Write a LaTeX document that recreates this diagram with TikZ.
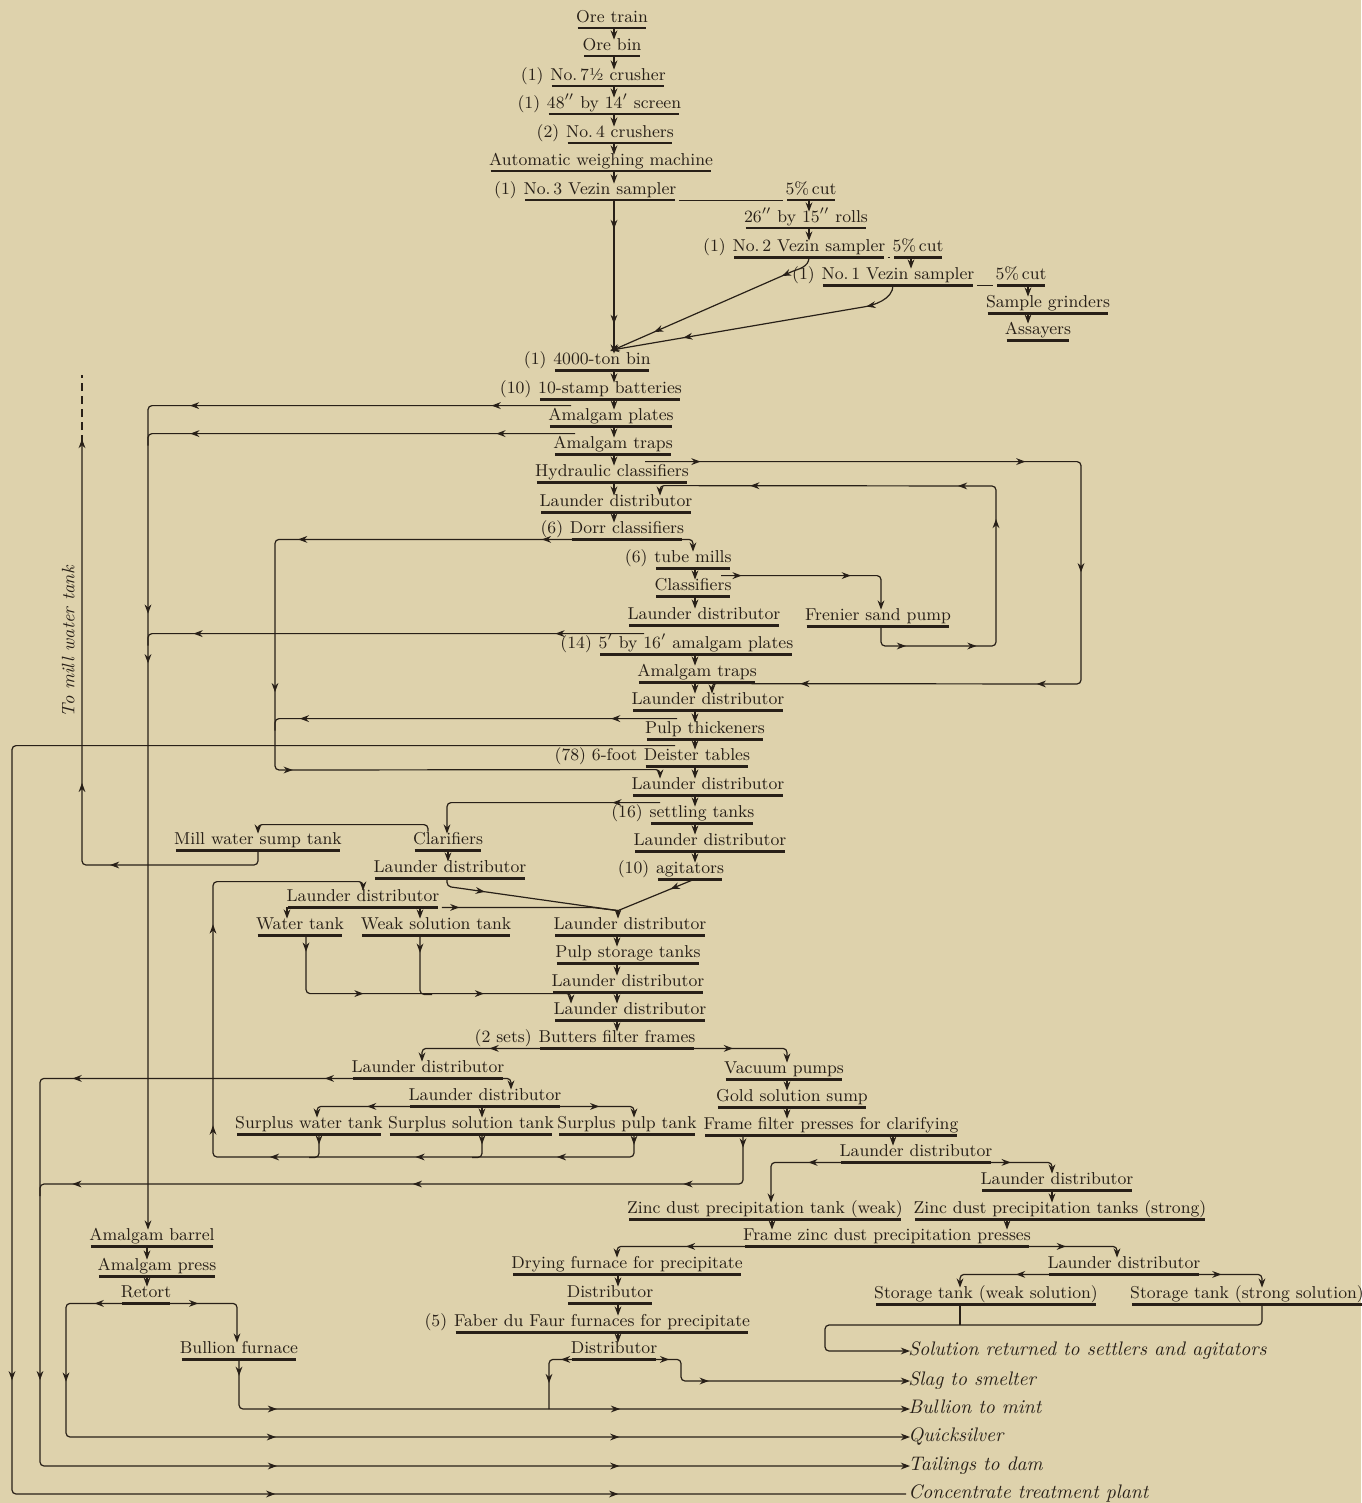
\documentclass[tikz,border=0pt]{standalone}
\usetikzlibrary{arrows.meta,decorations.markings,calc}

\definecolor{paper}{RGB}{222,210,172}
\definecolor{ink}{RGB}{40,32,24}
\newcommand{\stagefont}{\fontsize{8.6}{10}\selectfont}
\newcommand{\outletfont}{\fontsize{9.8}{11}\selectfont\itshape}

\tikzset{
  stage/.style={font=\stagefont, text=ink, inner sep=1pt, text height=6.2pt, text depth=1.8pt,
    append after command={(\tikzlastnode.south west) edge[rule] (\tikzlastnode.south east)}},
  rule/.style={draw=ink, line width=1.1pt, shorten <=2pt, shorten >=2pt},
  qty/.style={label={[qtytext]left:#1}},
  qtytext/.style={font=\stagefont, text=ink, inner ysep=1pt, inner xsep=2pt, text height=6.2pt, text depth=1.8pt},
  outlet/.style={font=\outletfont, text=ink, anchor=west, inner sep=1pt, text height=6.2pt, text depth=1.8pt},
  flow/.style={draw=ink, line width=0.6pt, rounded corners=2pt},
  feed/.style={flow, -{Stealth[length=4.6pt,width=3.4pt]}, shorten >=-2pt},
  arrowat/.style={postaction={decorate, decoration={markings,
    mark=at position #1 with {\arrow{Stealth[length=4.6pt,width=3.4pt]}}}}},
}

\begin{document}
\begin{tikzpicture}[x=0.5pt, y=-0.5pt]
  \useasboundingbox (0,0) rectangle (1361,1503);
  \fill[paper] (0,0) rectangle (1361,1503);
  %lanes
  \coordinate (trunk) at (614,0);
  \coordinate (mills) at (695,0);
  \coordinate (lower) at (617,0);
  \coordinate (vac) at (787,0);
  \coordinate (furn) at (618,0);
  \coordinate (amal) at (147,0);
  \coordinate (xk) at (12,0);
  \coordinate (xt) at (40,0);
  \coordinate (xq) at (66,0);
  \coordinate (xm) at (82,0);
  \coordinate (xa) at (148,0);
  \coordinate (xs) at (213,0);
  \coordinate (xc) at (275,0);
  \coordinate (xd) at (549,0);
  \coordinate (xg) at (681,0);
  \coordinate (xf) at (996,0);
  \coordinate (xh) at (1081,0);
  \coordinate (mwtip) at (82,443);
  \coordinate (mwtop) at (82,375);
  \coordinate (tr1) at (614,225);
  \coordinate (tr2) at (614,320);

  %draw stages
  \node[stage] (oretrain) at (612,18) {Ore train};
  \node[stage] (orebin) at (612,46) {Ore bin};
  \node[stage, qty=(1)] (crusher) at (608,76) {No.\,7\textonehalf{} crusher};
  \node[stage, qty=(1)] (screen) at (614,104) {48$''$ by 14$'$ screen};
  \node[stage, qty=(2)] (crushers) at (620,133) {No.\,4 crushers};
  \node[stage] (weigh) at (601,161) {Automatic weighing machine};
  \node[stage, qty=(1)] (vezin3) at (600,190) {No.\,3 Vezin sampler};
  \node[stage] (cut3) at (811,190) {5\%\,cut};
  \node[stage] (rolls) at (806,218) {26$''$ by 15$''$ rolls};
  \node[stage, qty=(1)] (vezin2) at (809,247) {No.\,2 Vezin sampler};
  \node[stage] (cut2) at (918,247) {5\%\,cut};
  \node[stage, qty=(1)] (vezin1) at (898,275) {No.\,1 Vezin sampler};
  \node[stage] (cut1) at (1021,275) {5\%\,cut};
  \node[stage] (grinders) at (1048,303) {Sample grinders};
  \node[stage] (assayers) at (1038,330) {Assayers};
  \node[stage, qty=(1)] (bin) at (602,360) {4000-ton bin};
  \node[stage, qty=(10)] (batteries) at (610,389) {10-stamp batteries};
  \node[stage] (amplates) at (611,416) {Amalgam plates};
  \node[stage] (amtraps) at (613,444) {Amalgam traps};
  \node[stage] (hydraulic) at (612,472) {Hydraulic classifiers};
  \node[stage] (launder1) at (616,502) {Launder distributor};
  \node[stage, qty=(6)] (dorr) at (627,529) {Dorr classifiers};
  \node[stage, qty=(6)] (tubemills) at (693,558) {tube mills};
  \node[stage] (classifiers) at (693,586) {Classifiers};
  \node[stage] (launder2) at (704,615) {Launder distributor};
  \node[stage] (frenier) at (878,616) {Frenier sand pump};
  \node[stage, qty=(14)] (plates2) at (696,644) {5$'$ by 16$'$ amalgam plates};
  \node[stage] (amtraps2) at (697,672) {Amalgam traps};
  \node[stage] (launder3) at (708,700) {Launder distributor};
  \node[stage] (thickeners) at (705,729) {Pulp thickeners};
  \node[stage, qty={(78) 6-foot}] (deister) at (697,756) {Deister tables};
  \node[stage] (launder4) at (708,785) {Launder distributor};
  \node[stage, qty=(16)] (settling) at (702,813) {settling tanks};
  \node[stage] (launder5) at (710,841) {Launder distributor};
  \node[stage, qty=(10)] (agitators) at (690,869) {agitators};
  \node[stage] (millsump) at (258,840) {Mill water sump tank};
  \node[stage] (clarifiers) at (448,840) {Clarifiers};
  \node[stage] (launder6) at (450,868) {Launder distributor};
  \node[stage] (launder7) at (363,897) {Launder distributor};
  \node[stage] (watertank) at (300,925) {Water tank};
  \node[stage] (weaktank) at (436,925) {Weak solution tank};
  \node[stage] (launder8) at (630,925) {Launder distributor};
  \node[stage] (pulpstorage) at (628,953) {Pulp storage tanks};
  \node[stage] (launder9) at (628,982) {Launder distributor};
  \node[stage] (launder10) at (630,1010) {Launder distributor};
  \node[stage, qty={(2 sets)}] (butters) at (617,1038) {Butters filter frames};
  \node[stage] (launder11) at (428,1068) {Launder distributor};
  \node[stage] (vacuum) at (784,1069) {Vacuum pumps};
  \node[stage] (launder12) at (485,1096) {Launder distributor};
  \node[stage] (goldsump) at (792,1097) {Gold solution sump};
  \node[stage] (surpluswater) at (309,1124) {Surplus water tank};
  \node[stage] (surplussol) at (471,1124) {Surplus solution tank};
  \node[stage] (surpluspulp) at (627,1124) {Surplus pulp tank};
  \node[stage] (framefilter) at (831,1125) {Frame filter presses for clarifying};
  \node[stage] (launder13) at (916,1152) {Launder distributor};
  \node[stage] (launder14) at (1057,1180) {Launder distributor};
  \node[stage] (zincweak) at (765,1209) {Zinc dust precipitation tank (weak)};
  \node[stage] (zincstrong) at (1060,1209) {Zinc dust precipitation tanks (strong)};
  \node[stage] (framezinc) at (887,1236) {Frame zinc dust precipitation presses};
  \node[stage] (drying) at (627,1264) {Drying furnace for precipitate};
  \node[stage] (launder15) at (1124,1264) {Launder distributor};
  \node[stage] (dist1) at (610,1293) {Distributor};
  \node[stage] (storageweak) at (986,1294) {Storage tank (weak solution)};
  \node[stage] (storagestrong) at (1247,1294) {Storage tank (strong solution)};
  \node[stage, qty=(5)] (faber) at (602,1322) {Faber du Faur furnaces for precipitate};
  \node[stage] (dist2) at (614,1349) {Distributor};
  \node[stage] (amalbarrel) at (152,1236) {Amalgam barrel};
  \node[stage] (amalpress) at (157,1266) {Amalgam press};
  \node[stage] (retort) at (146,1293) {Retort};
  \node[stage] (bullionfurnace) at (239,1349) {Bullion furnace};

  %draw outlets
  \node[outlet] (solreturn) at (906,1351) {Solution returned to settlers and agitators};
  \node[outlet] (slag) at (906,1381) {Slag to smelter};
  \node[outlet] (mint) at (906,1409) {Bullion to mint};
  \node[outlet] (quicksilver) at (906,1437) {Quicksilver};
  \node[outlet] (tailings) at (906,1466) {Tailings to dam};
  \node[outlet] (concplant) at (906,1494) {Concentrate treatment plant};
  \node[outlet, font=\fontsize{9}{11}\selectfont\itshape, anchor=center, rotate=90] (mwlabel) at (70,642) {To mill water tank};

  %draw main column
  \draw[feed] (oretrain.south -| trunk) -- (orebin.north -| trunk);
  \draw[feed] (orebin.south -| trunk) -- (crusher.north -| trunk);
  \draw[feed] (crusher.south -| trunk) -- (screen.north -| trunk);
  \draw[feed] (screen.south -| trunk) -- (crushers.north -| trunk);
  \draw[feed] (crushers.south -| trunk) -- (weigh.north -| trunk);
  \draw[feed] (weigh.south -| trunk) -- (vezin3.north -| trunk);
  \draw[feed] (vezin3.south -| trunk) -- (tr1);
  \draw[feed] (tr1) -- (tr2);
  \draw[feed] (tr2) -- (bin.north -| trunk);
  \draw[feed] (bin.south -| trunk) -- (batteries.north -| trunk);
  \draw[feed] (batteries.south -| trunk) -- (amplates.north -| trunk);
  \draw[feed] (amplates.south -| trunk) -- (amtraps.north -| trunk);
  \draw[feed] (amtraps.south -| trunk) -- (hydraulic.north -| trunk);
  \draw[feed] (hydraulic.south -| trunk) -- (launder1.north -| trunk);
  \draw[feed] (launder1.south -| trunk) -- (dorr.north -| trunk);

  %draw sampling
  \draw[flow] (vezin3.south east) -- (cut3.south west);
  \draw[feed] ($(cut3.south)+(-2,0)$) -- ($(rolls.north)+(3,0)$);
  \draw[feed] ($(rolls.south)+(3,0)$) -- (vezin2.north);
  \draw[flow] (vezin2.south east) -- (cut2.south west);
  \draw[feed] ($(cut2.south)+(-7,0)$) -- ($(vezin1.north)+(13,0)$);
  \draw[flow] (vezin1.south east) -- (cut1.south west);
  \draw[feed] ($(cut1.south)+(7,0)$) -- ($(grinders.north)+(-20,0)$);
  \draw[feed] ($(grinders.south)+(-20,0)$) -- ($(assayers.north)+(-10,0)$);
  \draw[feed, arrowat=0.16, arrowat=0.8] (vezin2.south) .. controls +(0,10) and +(8,-3.5) .. ++(-20,15.5) -- (bin.north -| trunk);
  \draw[feed, arrowat=0.125, arrowat=0.76] ($(vezin1.south)+(-5,0)$) .. controls +(0,14) and +(12,-2) .. ++(-32,22) -- (bin.north -| trunk);

  %draw amalgam lines
  \draw[feed, arrowat=0.064, arrowat=0.307, arrowat=0.507, arrowat=0.547]
    ($(amplates.north)+(-40,0)$) -- (xa |- amplates.north) -- (xa |- amalbarrel.north);
  \draw[flow, arrowat=0.18, arrowat=0.88] ($(amtraps.north)+(-38,0)$) -- (xa |- amtraps.north) -- ++(0,12);
  \draw[flow, arrowat=0.175, arrowat=0.89] ($(plates2.north)+(-52,0)$) -- (xa |- plates2.north) -- ++(0,12);
  \draw[feed] (amalbarrel.south -| amal) -- (amalpress.north -| amal);
  \draw[feed] (amalpress.south -| amal) -- (retort.north -| amal);
  \draw[feed, arrowat=0.42] (retort.south) -| ($(bullionfurnace.north)+(-2,0)$);
  \draw[feed, arrowat=0.049, arrowat=0.149, arrowat=0.40, arrowat=0.727]
    (retort.south) -- (xq |- retort.south) |- (quicksilver.west);
  \draw[feed, arrowat=0.023, arrowat=0.12, arrowat=0.6] (bullionfurnace.south) |- (mint.west);

  %draw classifier circuit
  \draw[feed, arrowat=0.054, arrowat=0.37, arrowat=0.53, arrowat=0.68, arrowat=0.91]
    ($(hydraulic.north)+(33,0)$) -- (xh |- hydraulic.north) -- (xh |- 0,684)
    -- ($(launder3.north)+(4,-6)$) -- ($(launder3.north)+(4,0)$);
  \draw[feed, arrowat=0.068, arrowat=0.18, arrowat=0.41, arrowat=0.52, arrowat=0.85]
    ($(frenier.south)+(3,0)$) |- (xf |- 0,646) -- (xf |- 0,486)
    -- ($(launder1.north)+(44,-6)$) -- ($(launder1.north)+(44,0)$);
  \draw[feed, arrowat=0.11, arrowat=0.69] ($(classifiers.north)+(28,0)$) -| ($(frenier.north)+(3,0)$);
  \draw[feed] (dorr.south) -| (tubemills.north);
  \draw[feed, arrowat=0.088, arrowat=0.34, arrowat=0.52, arrowat=0.617]
    (dorr.south) -- (xc |- dorr.south) -- (xc |- 0,770)
    -- ($(launder4.north)+(-48,-5)$) -- ($(launder4.north)+(-48,0)$);
  \draw[feed] (tubemills.south -| mills) -- (classifiers.north -| mills);
  \draw[feed] (classifiers.south -| mills) -- (launder2.north -| mills);
  \draw[feed] (plates2.south -| mills) -- (amtraps2.north -| mills);
  \draw[feed] (amtraps2.south -| mills) -- (launder3.north -| mills);
  \draw[feed] (launder3.south -| mills) -- (thickeners.north -| mills);
  \draw[feed] (thickeners.south -| mills) -- (deister.north -| mills);
  \draw[feed] (deister.south -| mills) -- (launder4.north -| mills);
  \draw[feed] (launder4.south -| mills) -- (settling.north -| mills);
  \draw[feed] (settling.south -| mills) -- (launder5.north -| mills);
  \draw[feed] (launder5.south -| mills) -- (agitators.north -| mills);
  \draw[flow, arrowat=0.16, arrowat=0.915] ($(thickeners.north)+(-28,0)$) -- (xc |- thickeners.north) -- ++(0,12);
  \draw[flow, arrowat=0.563, arrowat=0.726, arrowat=0.875]
    ($(deister.north)+(-22,0)$) -- (xk |- deister.north) -- (xk |- concplant.west) -- (concplant.west);

  %draw clarifying and mill water
  \draw[feed, arrowat=0.2] ($(settling.north)+(-42,0)$) -| ($(clarifiers.north)+(-1,0)$);
  \draw[feed] ($(clarifiers.north)+(-20,2)$) |- ($(millsump.north)+(0,-5)$) -- (millsump.north);
  \draw[feed] (clarifiers.south) -- (clarifiers.south |- launder6.north);
  \draw[feed, arrowat=0.264, arrowat=0.442] (millsump.south) |- (xm |- 0,865) -- (mwtip);
  \draw[flow, dash pattern=on 4pt off 2.5pt] (mwtip) -- (mwtop);

  %draw pulp storage
  \coordinate (join) at ($(launder8.north)+(-12,-4)$);
  \draw[flow, arrowat=0.25] ($(launder6.south)+(-3,0)$) -- ++(0,8) -- (join);
  \draw[flow, arrowat=0.31] ($(agitators.south)+(4,0)$) -- (join);
  \draw[flow, arrowat=0.1] (launder7.south east) -- ++(150,0) -- (join);
  \draw[feed] (join) -- (join |- launder8.north);
  \draw[feed] ($(launder7.south)+(-76,0)$) -- ($(watertank.north)+(-13,0)$);
  \draw[feed] ($(launder7.south)+(57,0)$) -- ($(weaktank.north)+(-16,0)$);
  \draw[feed, arrowat=0.05, arrowat=0.35, arrowat=0.72]
    ($(watertank.south)+(6,0)$) |- ($(launder10.north)+(-59,-6)$) -- ($(launder10.north)+(-59,0)$);
  \draw[flow, arrowat=0.25] ($(weaktank.south)+(-16,0)$) |- ++(12,59);
  \draw[feed] (launder8.south -| lower) -- (pulpstorage.north -| lower);
  \draw[feed] (pulpstorage.south -| lower) -- (launder9.north -| lower);
  \draw[feed] (launder9.south -| lower) -- (launder10.north -| lower);
  \draw[feed] (launder10.south -| lower) -- (butters.north -| lower);

  %draw filter frames
  \draw[feed, arrowat=0.63] (butters.south) -| ($(launder11.north)+(-6,0)$);
  \draw[feed, arrowat=0.65] (butters.south) -| ($(vacuum.north)+(3,0)$);
  \draw[feed, arrowat=0.063, arrowat=0.217, arrowat=0.42, arrowat=0.616, arrowat=0.825]
    (launder11.south) -- (xt |- launder11.south) |- (tailings.west);
  \draw[feed] (launder11.south) -| ($(launder12.north)+(26,0)$);
  \draw[feed, arrowat=0.68] (launder12.south) -| ($(surpluswater.north)+(8,0)$);
  \draw[feed] ($(launder12.south)+(-3,0)$) -- ($(surplussol.north)+(11,0)$);
  \draw[feed, arrowat=0.74] (launder12.south) -| ($(surpluspulp.north)+(7,0)$);
  \draw[feed, arrowat=0.012, arrowat=0.113, arrowat=0.276, arrowat=0.444, arrowat=0.544, arrowat=0.776]
    ($(surpluspulp.south)+(7,0)$) |- (xs |- 0,1157) |- ($(launder7.north)+(0,-5)$) -- (launder7.north);
  \draw[flow, arrowat=0.32] ($(surpluswater.south)+(10,0)$) |- ++(-10,23);
  \draw[flow, arrowat=0.32] ($(surplussol.south)+(11,0)$) |- ++(-10,23);

  %draw solution side
  \draw[feed] (vacuum.south -| vac) -- (goldsump.north -| vac);
  \draw[feed] (goldsump.south -| vac) -- (framefilter.north -| vac);
  \draw[flow, arrowat=0.016, arrowat=0.14, arrowat=0.496, arrowat=0.944]
    ($(framefilter.south)+(-88,0)$) |- (xt |- 0,1184) -- ++(0,12);
  \draw[feed] ($(framefilter.south)+(62,0)$) -- ($(launder13.north)+(-23,0)$);
  \draw[feed, arrowat=0.6] (launder13.south) -| ($(zincweak.north)+(6,0)$);
  \draw[feed, arrowat=0.67] (launder13.south) -| ($(launder14.north)+(-5,0)$);
  \draw[feed] ($(launder14.south)+(-5,0)$) -- ($(zincstrong.north)+(-8,0)$);
  \draw[feed] ($(zincweak.south)+(7,0)$) -- ($(framezinc.north)+(-115,0)$);
  \draw[feed] ($(zincstrong.south)+(-53,0)$) -- ($(framezinc.north)+(120,0)$);
  \draw[feed, arrowat=0.73] (framezinc.south) -| ($(drying.north)+(-10,0)$);
  \draw[feed, arrowat=0.76] (framezinc.south) -| ($(launder15.north)+(-7,0)$);
  \draw[feed] (drying.south -| furn) -- (dist1.north -| furn);
  \draw[feed] (dist1.south -| furn) -- (faber.north -| furn);
  \draw[feed] (faber.south -| furn) -- (dist2.north -| furn);
  \draw[feed, arrowat=0.63] (launder15.south) -| ($(storageweak.north)+(-26,0)$);
  \draw[feed, arrowat=0.67] (launder15.south) -| ($(storagestrong.north)+(15,0)$);
  \draw[feed] ($(storagestrong.south)+(15,0)$) |- ($(solreturn.west)+(-81,-26)$) |- (solreturn.west);
  \draw[flow] ($(storageweak.south)+(-26,0)$) -- ++(0,21);
  \draw[flow, arrowat=0.47, arrowat=0.77] (dist2.south) -| (xd |- mint.west);
  \draw[feed, arrowat=0.178, arrowat=0.364] (dist2.south) -| (xg |- slag.west) -- (slag.west);
\end{tikzpicture}
\end{document}
